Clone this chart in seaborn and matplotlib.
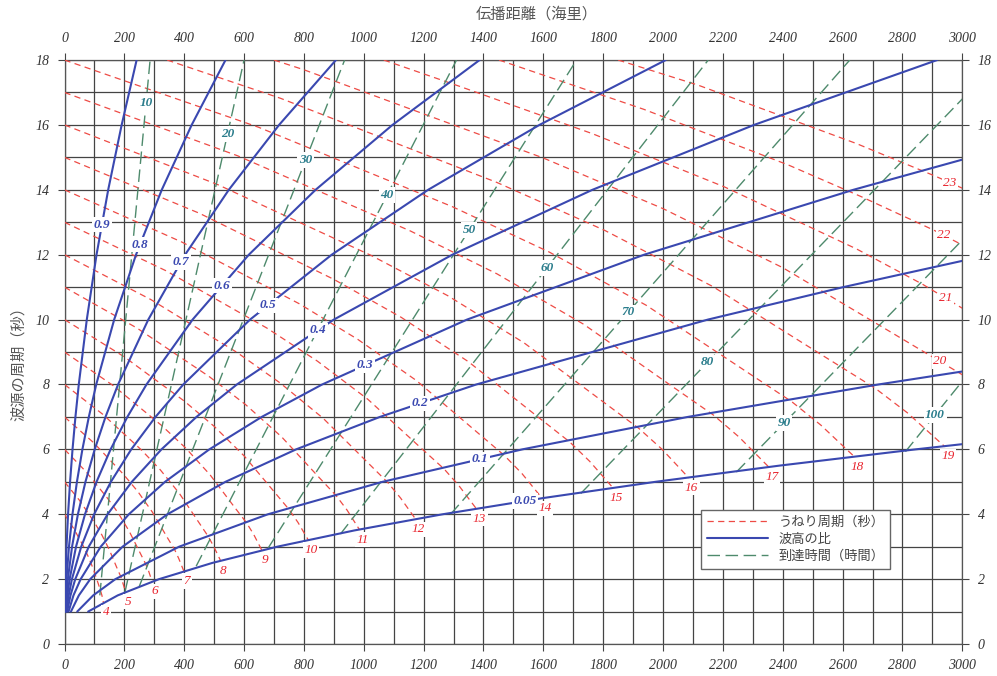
import numpy as np
import pandas as pd
import seaborn as sns
import matplotlib.pyplot as plt
from matplotlib.lines import Line2D

# ----------------------------- values -----------------------------

# 波高の比 (blue): source period T [s] along each curve, distance [nm]
ratio_labels = ['0.9', '0.8', '0.7', '0.6', '0.5', '0.4', '0.3', '0.2', '0.1', '0.05']
T_full = [1, 1.5, 2, 3, 4, 5, 6, 7, 8, 10, 12, 14, 16, 18]
ratio_T = [
    T_full, T_full, T_full, T_full, T_full, T_full,
    [1, 1.5, 2, 3, 4, 5, 6, 7, 8, 10, 12, 14, 14.93],
    [1, 1.5, 2, 3, 4, 5, 6, 7, 8, 10, 11, 11.81],
    [1, 1.5, 2, 3, 4, 5, 6, 7, 8, 8.4],
    [1, 1.5, 2, 2.5, 3, 3.5, 4, 4.5, 5, 5.5, 6, 6.16],
]
ratio_x = [
    [0.7, 1.7, 3.0, 6.7, 11.9, 18.6, 26.8, 36.5, 47.7, 74.5, 107, 146, 191, 241],
    [1.7, 3.7, 6.6, 14.9, 26.6, 41.5, 59.8, 81.3, 106, 166, 239, 325, 425, 538],
    [2.8, 6.3, 11.2, 25.2, 44.8, 70, 101, 137, 179, 280, 403, 549, 717, 907],
    [4.3, 9.6, 17.1, 38.5, 68.5, 107, 154, 210, 274, 428, 616, 839, 1096, 1387],
    [6.2, 14, 24.8, 55.8, 99, 155, 223, 304, 397, 620, 893, 1215, 1587, 2009],
    [9, 20, 36, 81, 144, 225, 324, 441, 576, 900, 1296, 1764, 2304, 2916],
    [13.5, 30, 54, 121, 215, 336, 484, 659, 861, 1345, 1937, 2636, 3000],
    [21.5, 48, 86, 194, 344, 538, 774, 1054, 1376, 2150, 2602, 3000],
    [42.5, 96, 170, 383, 680, 1063, 1530, 2083, 2720, 3000],
    [79, 178, 316, 494, 711, 968, 1264, 1600, 1975, 2390, 2844, 3000],
]
ratio_label_x = [125, 252, 389, 526, 680, 847, 1004, 1188, 1388, 1539]

# うねり周期 (red): curves of swell period 4..23 s
swell_labels = list(range(4, 24))
swell_x = [
    [0, 32, 64, 80, 96, 112, 120, 125, 130],
    [0, 50, 100, 125, 150, 175, 188, 195, 204],
    [0, 72, 144, 180, 216, 252, 270, 281, 293],
    [0, 98, 196, 245, 294, 343, 368, 382, 399],
    [0, 128, 256, 320, 384, 448, 480, 499, 522],
    [0, 162, 324, 405, 486, 567, 608, 632, 660],
    [0, 200, 400, 500, 600, 700, 750, 780, 815],
    [0, 242, 484, 605, 726, 847, 908, 944, 986],
    [0, 288, 576, 720, 864, 1008, 1080, 1123, 1174],
    [0, 338, 676, 845, 1014, 1183, 1268, 1318, 1377],
    [0, 392, 784, 980, 1176, 1372, 1470, 1529, 1597],
    [0, 450, 900, 1125, 1350, 1575, 1688, 1755, 1834],
    [0, 512, 1024, 1280, 1536, 1792, 1920, 1997, 2086],
    [0, 578, 1156, 1445, 1734, 2023, 2168, 2254, 2355],
    [0, 648, 1296, 1620, 1944, 2268, 2430, 2527, 2641],
    [343, 722, 1444, 1805, 2166, 2527, 2708, 2816, 2942],
    [700, 800, 1600, 2000, 2400, 2800, 3000],
    [1067, 1323, 1764, 2205, 2646, 2867, 3000],
    [1452, 1936, 2420, 2662, 2904, 3000],
    [1850, 2116, 2645, 2910, 3000],
]
swell_y = [
    [4, 3.54, 3.0, 2.68, 2.32, 1.88, 1.66, 1.5, 1.28],
    [5, 4.43, 3.75, 3.36, 2.9, 2.35, 2.08, 1.88, 1.6],
    [6, 5.31, 4.49, 4.03, 3.48, 2.82, 2.49, 2.25, 1.92],
    [7, 6.2, 5.24, 4.7, 4.06, 3.29, 2.91, 2.63, 2.24],
    [8, 7.08, 5.99, 5.37, 4.64, 3.76, 3.32, 3.0, 2.56],
    [9, 7.97, 6.74, 6.04, 5.22, 4.23, 3.74, 3.38, 2.88],
    [10, 8.85, 7.49, 6.71, 5.8, 4.7, 4.15, 3.75, 3.2],
    [11, 9.74, 8.24, 7.38, 6.38, 5.17, 4.57, 4.13, 3.52],
    [12, 10.62, 8.99, 8.05, 6.96, 5.64, 4.98, 4.5, 3.84],
    [13, 11.51, 9.74, 8.72, 7.54, 6.11, 5.4, 4.88, 4.16],
    [14, 12.39, 10.49, 9.39, 8.12, 6.58, 5.81, 5.25, 4.48],
    [15, 13.28, 11.24, 10.07, 8.7, 7.05, 6.23, 5.63, 4.8],
    [16, 14.16, 11.98, 10.74, 9.28, 7.52, 6.64, 6.0, 5.12],
    [17, 15.05, 12.73, 11.41, 9.86, 7.99, 7.06, 6.38, 5.44],
    [18, 15.93, 13.48, 12.08, 10.44, 8.46, 7.47, 6.75, 5.76],
    [18, 16.82, 14.23, 12.75, 11.02, 8.93, 7.89, 7.13, 6.08],
    [18, 17.7, 14.98, 13.42, 11.6, 9.4, 8.3],
    [18, 17.18, 15.73, 14.09, 12.18, 11.09, 10.35],
    [18, 16.48, 14.76, 13.79, 12.76, 12.3],
    [18, 17.23, 15.43, 14.42, 14.05],
]
swell_edge_label_x = [2925, 2945, 2938, 2958]   # labels 20..23 sit on the curve

# 到達時間 (green): straight lines, start and end points
time_h = [10, 20, 30, 40, 50, 60, 70, 80, 90, 100]
time_x0 = [118, 202, 250, 440, 680, 922, 1290, 1725, 2245, 2810]
time_y0 = [1.5, 1.6, 1.78, 2.4, 2.95, 3.39, 4.0, 4.64, 5.3, 5.93]
time_x1 = [286, 600, 936, 1310, 1711, 2151, 2624, 3000, 3000, 3000]
time_y1 = [18, 18, 18, 18, 18, 18, 18, 16.8, 12.45, 8.1]
time_label_y = [16.68, 15.72, 14.92, 13.84, 12.76, 11.59, 10.23, 8.69, 6.81, 7.06]

RED = '#ee4b45'
RED_TEXT = '#e8232d'
BLUE = '#3a48b0'
GREEN = '#4e8a6c'
LABEL_GREEN = '#2b7d8c'

# ----------------------------- tables for seaborn -----------------------------

def curves_frame(names, xs, ys):
    parts = [pd.DataFrame({'x': x, 'y': y, 'curve': str(n)}) for n, x, y in zip(names, xs, ys)]
    return pd.concat(parts, ignore_index=True)

ratio_df = curves_frame(ratio_labels, ratio_x, ratio_T)
swell_df = curves_frame(swell_labels, swell_x, swell_y)
time_df = curves_frame(time_h,
                       [[a, b] for a, b in zip(time_x0, time_x1)],
                       [[a, b] for a, b in zip(time_y0, time_y1)])

# ----------------------------- figure -----------------------------

sns.set_theme(style='white')
plt.rcParams['font.family'] = ['Liberation Serif', 'Noto Sans CJK JP']

fig = plt.figure(figsize=(9.97, 6.76), dpi=100)
ax = fig.add_axes([0.0647, 0.0473, 0.9005, 0.8639])

ax.set_xlim(0, 3000)
ax.set_ylim(0, 18)
ax.set_xticks(range(0, 3001, 200))
ax.set_yticks(range(0, 19, 2))
ax.set_xticks(range(0, 3001, 100), minor=True)
ax.set_yticks(range(0, 19, 1), minor=True)
ax.grid(which='both', color='#444444', lw=0.9, zorder=0)
ax.set_axisbelow(True)

ax.tick_params(which='major', direction='out', length=5, width=0.8, color='#444444',
               top=True, right=True, bottom=True, left=True,
               labeltop=True, labelright=True, pad=6)
ax.tick_params(which='minor', length=0)
for t in ax.xaxis.get_major_ticks() + ax.yaxis.get_major_ticks():
    for lab in (t.label1, t.label2):
        lab.set_fontstyle('italic')
        lab.set_fontsize(10)
        lab.set_color('#333333')
for sp in ax.spines.values():
    sp.set_color('#555555')
    sp.set_linewidth(0.9)

# curves
sns.lineplot(data=swell_df, x='x', y='y', units='curve', estimator=None, sort=False,
             color=RED, lw=0.9, linestyle=(0, (5, 3.5)), ax=ax, legend=False, zorder=3)
sns.lineplot(data=time_df, x='x', y='y', units='curve', estimator=None, sort=False,
             color=GREEN, lw=1.0, linestyle=(0, (9, 4)), ax=ax, legend=False, zorder=3)
sns.lineplot(data=ratio_df, x='x', y='y', units='curve', estimator=None, sort=False,
             color=BLUE, lw=1.5, ax=ax, legend=False, zorder=4)
ax.set_xlabel('')
ax.set_ylabel('')

box = dict(boxstyle='square,pad=0.12', fc='white', ec='none')
lab_kw = dict(fontsize=9.5, fontstyle='italic', ha='center', va='center', zorder=6)

# blue labels on the curves
for name, xs, ts, lx in zip(ratio_labels, ratio_x, ratio_T, ratio_label_x):
    ax.text(lx, np.interp(lx, xs, ts), name, color=BLUE, fontweight='bold', bbox=box, **lab_kw)

# red labels: below the curve end, or on the curve near the right edge
for n, xs, ys in zip(swell_labels, swell_x, swell_y):
    if n <= 19:
        ax.annotate(str(n), (xs[-1], ys[-1]), xytext=(2, -7), textcoords='offset points',
                    color=RED_TEXT, bbox=box, **lab_kw)
for n, lx in zip(swell_labels[-4:], swell_edge_label_x):
    i = swell_labels.index(n)
    ax.text(lx, np.interp(lx, swell_x[i], swell_y[i]), str(n), color=RED_TEXT, bbox=box, **lab_kw)

# green labels on the lines
for h, x0, y0, x1, y1, ly in zip(time_h, time_x0, time_y0, time_x1, time_y1, time_label_y):
    ax.text(np.interp(ly, [y0, y1], [x0, x1]), ly, str(h), color=LABEL_GREEN,
            fontweight='bold', bbox=box, **lab_kw)

# axis titles
fig.text(537 / 997, 1 - 14 / 676, '伝播距離（海里）', ha='center', va='center',
         fontsize=11, color='#555555', family=['Noto Sans CJK JP'])
fig.text(18 / 997, 1 - 360 / 676, '波源の周期（秒）', ha='center', va='center', rotation=90,
         fontsize=11, color='#555555', family=['Noto Sans CJK JP'])

# legend
handles = [
    Line2D([], [], color=RED, lw=0.9, linestyle=(0, (5, 3.5))),
    Line2D([], [], color=BLUE, lw=1.5),
    Line2D([], [], color=GREEN, lw=1.0, linestyle=(0, (9, 4))),
]
leg = ax.legend(handles, ['うねり周期（秒）', '波高の比', '到達時間（時間）'],
                loc='lower left', bbox_to_anchor=(0.702, 0.118), fancybox=False,
                framealpha=1, edgecolor='#666666', handlelength=4.6,
                borderpad=0.45, labelspacing=0.3,
                prop=dict(family=['Noto Sans CJK JP'], size=9.5))
leg.get_frame().set_linewidth(1.0)
for txt in leg.get_texts():
    txt.set_color('#444444')
leg.set_zorder(10)

fig.savefig('out.png', dpi=100)
